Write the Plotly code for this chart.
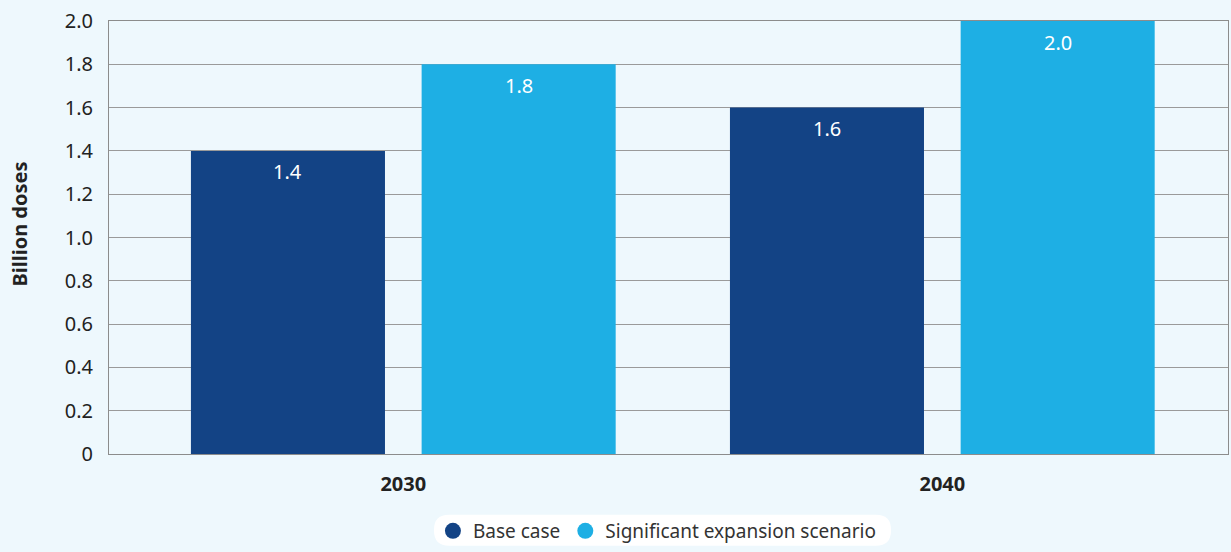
import plotly.graph_objects as go

years = ["2030", "2040"]
base_case = [1.4, 1.6]
expansion = [1.8, 2.0]
y_ticks = [0, 0.2, 0.4, 0.6, 0.8, 1.0, 1.2, 1.4, 1.6, 1.8, 2.0]
y_tick_text = ["0", "0.2", "0.4", "0.6", "0.8", "1.0", "1.2", "1.4", "1.6", "1.8", "2.0"]

DARK = "#134385"
LIGHT = "#1EAFE4"
BG = "#EEF8FD"
FONT = "Noto Sans"

xpos = list(range(len(years)))

fig = go.Figure()
fig.add_trace(go.Bar(x=xpos, y=base_case, width=0.36, offset=-0.394,
                     marker=dict(color=DARK, line=dict(width=0)), showlegend=False))
fig.add_trace(go.Bar(x=xpos, y=expansion, width=0.36, offset=0.034,
                     marker=dict(color=LIGHT, line=dict(width=0)), showlegend=False))

# circular legend markers
for name, col in [("Base case", DARK), ("Significant expansion scenario", LIGHT)]:
    fig.add_trace(go.Scatter(x=[None], y=[None], mode="markers", name=name,
                             marker=dict(symbol="circle", size=16, color=col)))

# value labels inside bar tops
for offs, vals in [(-0.394 + 0.18, base_case), (0.034 + 0.18, expansion)]:
    for xi, v in zip(xpos, vals):
        fig.add_annotation(x=xi + offs, y=v, text=f"{v:.1f}", showarrow=False,
                           yshift=-21, font=dict(family=FONT, size=20, color="white"))

# y-axis title
fig.add_annotation(x=0, xref="paper", y=0.53, yref="paper", xanchor="center",
                   yanchor="middle", xshift=-89, textangle=-90, showarrow=False,
                   text="<b>Billion doses</b>", font=dict(family=FONT, size=20, color="#222222"))

# rounded legend background
x0, x1 = (434 - 109) / 1119, (891 - 109) / 1119
y0, y1 = (455 - 547) / 434, (455 - 516) / 434
rx, ry = 15 / 1119, 15 / 434
path = (f"M {x0+rx},{y1} L {x1-rx},{y1} Q {x1},{y1} {x1},{y1-ry} "
        f"L {x1},{y0+ry} Q {x1},{y0} {x1-rx},{y0} L {x0+rx},{y0} "
        f"Q {x0},{y0} {x0},{y0+ry} L {x0},{y1-ry} Q {x0},{y1} {x0+rx},{y1} Z")
fig.add_shape(type="path", path=path, xref="paper", yref="paper",
              fillcolor="white", line=dict(width=0), layer="below")

fig.update_layout(
    width=1231, height=552,
    margin=dict(l=109, r=3, t=21, b=97),
    paper_bgcolor=BG, plot_bgcolor=BG,
    font=dict(family=FONT, size=20, color="#222222"),
    xaxis=dict(range=[-0.546, 1.53], tickvals=xpos, ticktext=[f"<b>{y}</b>" for y in years],
               showgrid=False, zeroline=False, showline=True, linecolor="#8C8C8C",
               linewidth=1, mirror=True, ticks="", ticklabelstandoff=12,
               tickfont=dict(size=20, color="#222222")),
    yaxis=dict(range=[0, 2.0], tickvals=y_ticks, ticktext=y_tick_text,
               showgrid=True, gridcolor="#9A9A9A", gridwidth=1, zeroline=False,
               showline=True, linecolor="#8C8C8C", linewidth=1, mirror=True,
               ticks="", ticklabelstandoff=11, tickfont=dict(size=20, color="#222222")),
    legend=dict(orientation="h", x=0.4901, xanchor="center", y=-0.175, yanchor="middle",
                bgcolor="rgba(0,0,0,0)", font=dict(size=19, color="#333333"),
                itemsizing="trace", itemwidth=30, tracegroupgap=0),
)

fig.write_html("out.html")
